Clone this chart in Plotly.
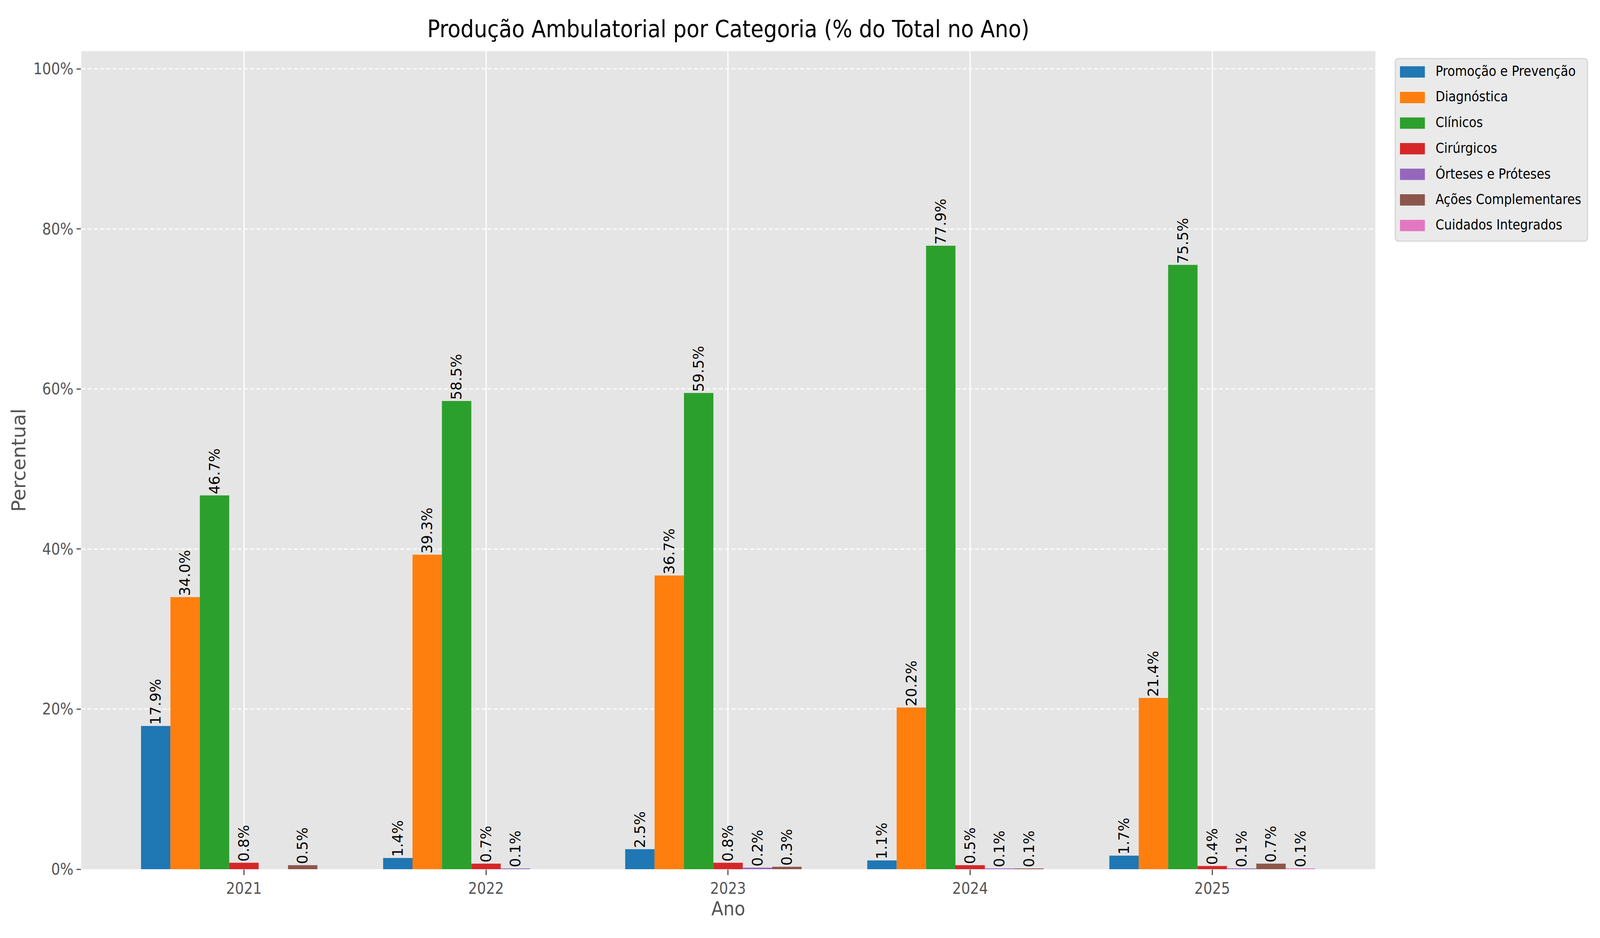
"""
Produção ambulatorial por categoria, em % do total de cada ano.
Barras agrupadas por ano, com rótulo de valor acima de cada barra.

Obs.: o navegador que fotografa a página só tem 4096 px de largura,
então a figura ocupa 4096x2400 e as medidas horizontais do original
(5400 px) são reduzidas por SX.
"""
import plotly.graph_objects as go

# dados
anos = ["2021", "2022", "2023", "2024", "2025"]
categorias = [
    "Promoção e Prevenção",
    "Diagnóstica",
    "Clínicos",
    "Cirúrgicos",
    "Órteses e Próteses",
    "Ações Complementares",
    "Cuidados Integrados",
]
promocao = [17.9, 1.4, 2.5, 1.1, 1.7]
diagnostica = [34.0, 39.3, 36.7, 20.2, 21.4]
clinicos = [46.7, 58.5, 59.5, 77.9, 75.5]
cirurgicos = [0.8, 0.7, 0.8, 0.5, 0.4]
orteses = [0.0, 0.1, 0.2, 0.1, 0.1]
acoes = [0.5, 0.0, 0.3, 0.1, 0.7]
cuidados = [0.0, 0.0, 0.0, 0.0, 0.1]
y_ticks = [0, 20, 40, 60, 80, 100]

series = [promocao, diagnostica, clinicos, cirurgicos, orteses, acoes, cuidados]
cores = ["#1f77b4", "#ff7f0e", "#2ca02c", "#d62728", "#9467bd", "#8c564b", "#e377c2"]

FONTE = "DejaVu Sans"  # textos girados (comprimento fica na vertical)
FONTE_H = "DejaVu Sans Condensed, DejaVu Sans"  # textos horizontais

W, H = 4096, 2400
SX = W / 5400
# área do gráfico (medidas do original)
PL, PR, PT, PB = 264 * SX, 4632 * SX, 123, 2216


def px_x(px):
    return (px * SX - PL) / (PR - PL)


def px_y(py):
    return (PB - py) / (PB - PT)


fig = go.Figure()
for nome, valores, cor in zip(categorias, series, cores):
    fig.add_trace(go.Bar(
        x=anos,
        y=valores,
        name=nome,
        marker=dict(color=cor, line=dict(width=0)),
        text=[f"{v:.1f}%" if v > 0 else "" for v in valores],
        textposition="outside",
        textangle=-90,
        constraintext="none",
        cliponaxis=False,
        textfont=dict(family=FONTE, size=37, color="black"),
        showlegend=False,
    ))

# legenda desenhada à mão (os símbolos nativos do plotly ficam minúsculos nessa escala)
shapes = []
annotations = []
r = 10
rx = r / (PR - PL)
ry = r / (PB - PT)
x0, x1, y0, y1 = px_x(4699), px_x(5348), px_y(609), px_y(142)
caminho = (
    f"M{x0 + rx},{y0} L{x1 - rx},{y0} Q{x1},{y0} {x1},{y0 + ry} "
    f"L{x1},{y1 - ry} Q{x1},{y1} {x1 - rx},{y1} "
    f"L{x0 + rx},{y1} Q{x0},{y1} {x0},{y1 - ry} "
    f"L{x0},{y0 + ry} Q{x0},{y0} {x0 + rx},{y0} Z"
)
shapes.append(dict(
    type="path", xref="paper", yref="paper", path=caminho,
    fillcolor="#EAEAEA", line=dict(color="#D6D6D6", width=3), layer="above",
))
for i, (nome, cor) in enumerate(zip(categorias, cores)):
    cy = 176 + i * 65.5
    shapes.append(dict(
        type="rect", xref="paper", yref="paper",
        x0=px_x(4715), x1=px_x(4799), y0=px_y(cy + 14.5), y1=px_y(cy - 14.5),
        fillcolor=cor, line=dict(width=0), layer="above",
    ))
    annotations.append(dict(
        xref="paper", yref="paper", x=px_x(4833), y=px_y(cy - 2),
        xanchor="left", yanchor="middle", showarrow=False, text=nome,
        font=dict(family=FONTE_H, size=35, color="black"),
    ))

fig.update_layout(
    width=W,
    height=H,
    margin=dict(l=PL, r=W - PR, t=PT, b=H - PB, autoexpand=False),
    paper_bgcolor="white",
    plot_bgcolor="#E5E5E5",
    barmode="group",
    bargap=0.15,
    bargroupgap=0,
    font=dict(family=FONTE_H, color="#555555"),
    title=dict(
        text="Produção Ambulatorial por Categoria (% do Total no Ano)",
        x=0.5, xref="paper", xanchor="center",
        y=1 - 66 / H, yref="container", yanchor="middle",
        font=dict(family=FONTE_H, size=60, color="black"),
    ),
    xaxis=dict(
        type="category",
        range=[-0.672, 4.674],
        showgrid=True,
        gridcolor="white",
        gridwidth=3,
        ticks="outside",
        ticklen=14,
        tickwidth=2.5,
        tickcolor="#555555",
        tickfont=dict(family=FONTE_H, size=40, color="#555555"),
        showline=False,
        zeroline=False,
        title=dict(text="Ano", standoff=10,
                   font=dict(family=FONTE_H, size=50, color="#555555")),
        automargin=False,
    ),
    yaxis=dict(
        range=[0, 102.2],
        tickvals=y_ticks,
        ticktext=[f"{v}%" for v in y_ticks],
        showgrid=True,
        gridcolor="rgba(255,255,255,0.7)",
        gridwidth=4,
        griddash="11px,5px",
        ticks="outside",
        ticklen=11,
        tickwidth=3,
        tickcolor="#555555",
        tickfont=dict(family=FONTE_H, size=40, color="#555555"),
        showline=False,
        zeroline=False,
        title=dict(text="Percentual", standoff=3,
                   font=dict(family=FONTE, size=50, color="#555555")),
        automargin=False,
    ),
    shapes=shapes,
    annotations=annotations,
)

fig.write_html("out.html")
